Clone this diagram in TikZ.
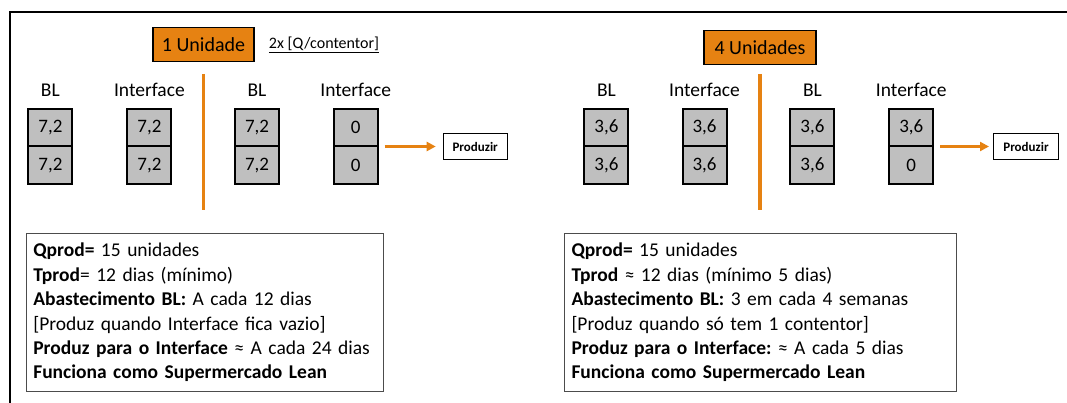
\documentclass[tikz,border=0pt]{standalone}
\usepackage{fontspec}
\setmainfont{Carlito}
\usetikzlibrary{arrows.meta}
\definecolor{orng}{RGB}{230,130,18}
\definecolor{cellgry}{RGB}{191,191,191}
\frenchspacing

\begin{document}
\begin{tikzpicture}[x=1pt,y=-1pt,
  cell/.style={draw,line width=2pt,fill=cellgry,minimum width=44pt,minimum height=37.5pt,inner sep=0pt,font=\fontsize{19}{22}\selectfont},
  lbl/.style={inner sep=0pt,font=\fontsize{19.5}{22}\selectfont},
  header/.style={draw,line width=1.6pt,fill=orng,inner sep=0pt,minimum height=34pt,font=\fontsize{20}{24}\selectfont},
  prodbox/.style={draw,line width=1pt,minimum width=64pt,minimum height=26pt,inner sep=0pt,font=\bfseries\fontsize{13}{15}\selectfont},
  infobox/.style={draw=black!70,line width=1pt,anchor=north west,align=left,inner xsep=7pt,minimum height=158pt,font=\fontsize{19.5}{24.4}\selectfont},
  flow/.style={orng,line width=3pt,-{Triangle[length=9pt,width=9pt]}},
  sepline/.style={orng,line width=3.5pt}]
\useasboundingbox (0,0) rectangle (1067,403);
% outer frame
\draw[line width=2pt] (9.6,403) -- (9.6,11.7) -- (1067,11.7);
% headers
\node[header,minimum width=101pt] (head1) at (203.5,44.5) {1 Unidade};
\node[font=\fontsize{16}{19}\selectfont] (note1) at (324,45) {\underline{2x [Q/contentor]}};
\node[header,minimum width=112pt] (head2) at (760,47.5) {4 Unidades};
\draw[sepline] ([yshift=-11.5pt]head1.south) -- ++(0,136);
\draw[sepline] ([yshift=-8.5pt]head2.south) -- ++(0,136);
% stacks: name/x/top/bottom/label
\foreach \n/\x/\a/\b/\t in {la/50.4/{7,2}/{7,2}/BL, lb/149.4/{7,2}/{7,2}/Interface,
    lc/257/{7,2}/{7,2}/BL, ld/355.7/0/0/Interface,
    ra/606.4/{3,6}/{3,6}/BL, rb/704.5/{3,6}/{3,6}/Interface,
    rc/812.4/{3,6}/{3,6}/BL, rd/911.3/{3,6}/0/Interface} {
  \node[lbl] (\n0) at (\x,90) {\t};
  \node[cell] (\n1) at (\x,127.75) {\a};
  \node[cell] (\n2) at (\x,165.25) {\b};
}
% produce signal
\node[prodbox] (pz1) at (475.2,146.5) {Produzir};
\node[prodbox,minimum width=65pt] (pz2) at (1026,146.5) {Produzir};
\draw[flow] ([xshift=6pt]ld1.south east |- pz1.west) -- ([xshift=-7pt]pz1.west);
\draw[flow] ([xshift=6pt]rd1.south east |- pz2.west) -- ([xshift=-4pt]pz2.west);
% notes
\node[infobox,text width=343pt] (info1) at (25.8,233) {\textbf{Qprod=} 15 unidades\\
  \textbf{Tprod}= 12 dias (mínimo)\\
  \textbf{Abastecimento BL:} A cada 12 dias\\
  {[}Produz quando Interface fica vazio]\\
  \textbf{Produz para o Interface} ≈ A cada 24 dias\\
  \textbf{Funciona como Supermercado Lean}};
\node[infobox,text width=377.7pt] (info2) at (564,233) {\textbf{Qprod=} 15 unidades\\
  \textbf{Tprod} ≈ 12 dias (mínimo 5 dias)\\
  \textbf{Abastecimento BL:} 3 em cada 4 semanas\\
  {[}Produz quando só tem 1 contentor]\\
  \textbf{Produz para o Interface:} ≈ A cada 5 dias\\
  \textbf{Funciona como Supermercado Lean}};
\end{tikzpicture}
\end{document}
